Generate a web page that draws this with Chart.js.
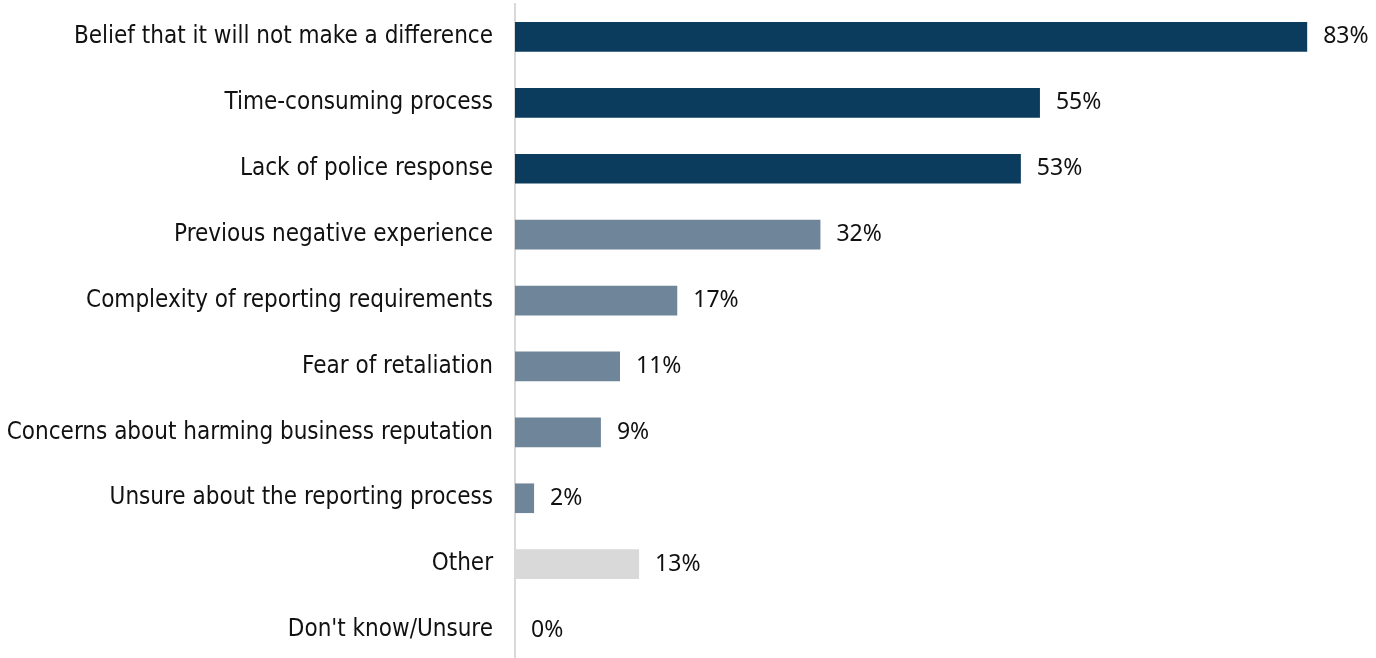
<!DOCTYPE html>
<html>
<head>
<meta charset="utf-8">
<script src="https://cdn.jsdelivr.net/npm/chart.js@4"></script>
<style>
  html, body { margin: 0; padding: 0; background: #fff; overflow: hidden; }
  .reasons-chart { position: relative; width: 1376px; height: 664px; }
</style>
</head>
<body>
<div class="reasons-chart">
  <canvas id="reasons"></canvas>
</div>
<script>
const reasons = [
  'Belief that it will not make a difference',
  'Time-consuming process',
  'Lack of police response',
  'Previous negative experience',
  'Complexity of reporting requirements',
  'Fear of retaliation',
  'Concerns about harming business reputation',
  'Unsure about the reporting process',
  'Other',
  "Don't know/Unsure",
];
const shares = [83, 55, 53, 32, 17, 11, 9, 2, 13, 0];

const FONT = '"DejaVu Sans Condensed", "DejaVu Sans", sans-serif';
const VALUE_FONT = '"Liberation Sans Narrow", "Noto Sans", sans-serif';
const DARK = '#0b3c5d';
const MID = '#6f8599';
const LIGHT = '#d9d9d9';

// percent label to the right of each bar
const valueLabels = {
  id: 'valueLabels',
  afterDatasetsDraw(chart) {
    const ctx = chart.ctx;
    const meta = chart.getDatasetMeta(0);
    ctx.save();
    ctx.font = `23px ${VALUE_FONT}`;
    ctx.fillStyle = '#111';
    ctx.textAlign = 'left';
    ctx.textBaseline = 'middle';
    meta.data.forEach((bar, i) => {
      ctx.fillText(`${shares[i]}%`, bar.x + 16, bar.y);
    });
    ctx.restore();
  }
};

new Chart(document.getElementById('reasons'), {
  type: 'bar',
  data: {
    labels: reasons,
    datasets: [{
      data: shares,
      backgroundColor: (c) => c.dataIndex < 3 ? DARK : (c.dataIndex < 8 ? MID : LIGHT),
      barPercentage: 0.45,
      categoryPercentage: 1,
      borderWidth: 0,
    }]
  },
  options: {
    indexAxis: 'y',
    responsive: true,
    maintainAspectRatio: false,
    animation: false,
    layout: { padding: { top: 4, right: 2, bottom: 1, left: 0 } },
    plugins: {
      legend: { display: false },
      tooltip: { enabled: false },
    },
    scales: {
      x: {
        display: false,
        min: 0,
        max: 90,
      },
      y: {
        z: 1,
        grid: { display: false, drawTicks: false },
        border: { display: true, color: '#d9d9d9', width: 2 },
        ticks: {
          padding: 22,
          color: '#111',
          font: { family: FONT, size: 24 },
        },
        // fixed label column; no extra room above/below the rows
        afterFit(scale) {
          scale.width = 515;
          scale.paddingTop = 0;
          scale.paddingBottom = 0;
        },
      }
    }
  },
  plugins: [valueLabels]
});
</script>
</body>
</html>
